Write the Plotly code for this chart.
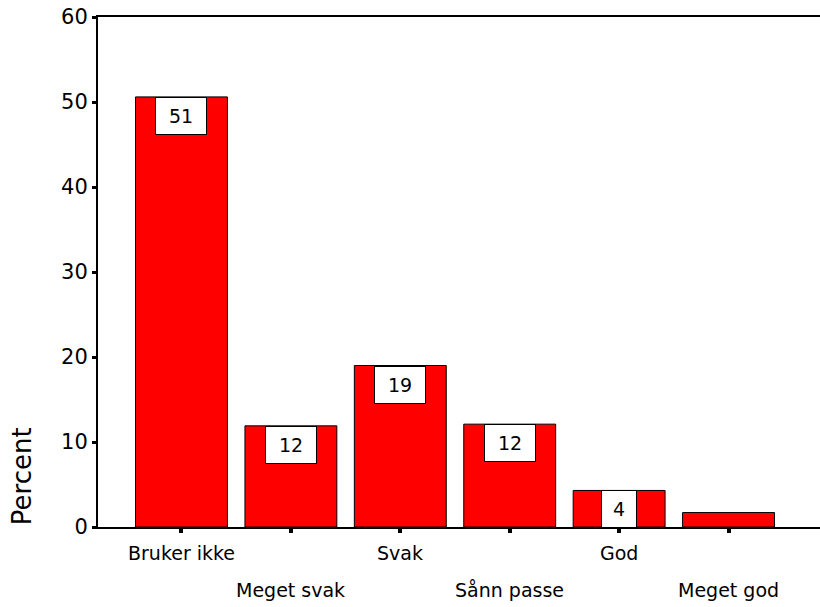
import plotly.graph_objects as go

categories = ["Bruker ikke", "Meget svak", "Svak", "Sånn passe", "God", "Meget god"]
percent = [50.6, 11.9, 19.0, 12.1, 4.3, 1.7]
value_labels = ["51", "12", "19", "12", "4", ""]
y_ticks = [0, 10, 20, 30, 40, 50, 60]

FONT = "DejaVu Sans"
xpos = list(range(len(categories)))

fig = go.Figure()
fig.add_trace(go.Bar(
    x=xpos, y=percent, width=0.84,
    marker=dict(color="#FF0000", line=dict(color="black", width=1)),
    hoverinfo="skip",
))

annotations = []
for i, (v, lab) in enumerate(zip(percent, value_labels)):
    if lab:
        annotations.append(dict(
            x=i, y=v, xref="x", yref="y", yanchor="top", xanchor="center",
            text=lab, showarrow=False,
            font=dict(family=FONT, size=19, color="black"),
            bgcolor="white", bordercolor="black", borderwidth=1, borderpad=0,
            width=18 + 16 * len(lab), height=36,
        ))
for i, c in enumerate(categories):
    annotations.append(dict(
        x=i, y=0, xref="x", yref="paper", yanchor="middle", xanchor="center",
        text=c, showarrow=False, yshift=-26 if i % 2 == 0 else -63,
        font=dict(family=FONT, size=19, color="black"),
    ))
annotations.append(dict(
    x=-0.105, y=0.1, xref="paper", yref="paper", xanchor="center", yanchor="middle",
    text="Percent", textangle=-90, showarrow=False,
    font=dict(family=FONT, size=26, color="black"),
))

fig.update_layout(
    width=820, height=607,
    margin=dict(l=98, r=0, t=17, b=80),
    paper_bgcolor="white", plot_bgcolor="white",
    showlegend=False,
    annotations=annotations,
    xaxis=dict(
        range=[-0.763, 5.836], tickvals=xpos, ticktext=[""] * len(xpos),
        ticks="outside", ticklen=4, tickwidth=4, tickcolor="black",
        showline=True, linecolor="black", linewidth=2, mirror=True,
        showgrid=False, zeroline=False, fixedrange=True,
    ),
    yaxis=dict(
        range=[0, 60], tickvals=y_ticks, ticktext=[str(t) for t in y_ticks],
        ticks="outside", ticklen=4, tickwidth=3, tickcolor="black",
        showline=True, linecolor="black", linewidth=2, mirror=False,
        showgrid=False, zeroline=False,
        tickfont=dict(family=FONT, size=21, color="black"),
    ),
)

fig.write_html(
    "out.html",
    config={"displayModeBar": False},
    post_script="document.body.style.margin='0px';document.body.style.overflow='hidden';",
)
